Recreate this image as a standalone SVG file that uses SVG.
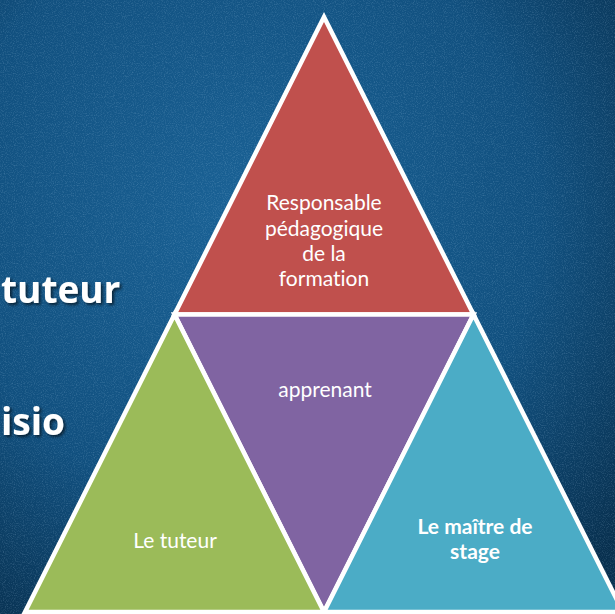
<svg xmlns="http://www.w3.org/2000/svg" width="615" height="614" viewBox="0 0 615 614">
<defs>
<radialGradient id="bg" cx="0.4" cy="0.35" r="0.8">
<stop offset="0" stop-color="#1a6296"/>
<stop offset="0.6" stop-color="#11507f"/>
<stop offset="1" stop-color="#08304f"/>
</radialGradient>
<filter id="noise" x="0" y="0" width="100%" height="100%">
<feTurbulence type="fractalNoise" baseFrequency="0.9" numOctaves="2" seed="3" result="n"/>
<feColorMatrix in="n" type="matrix" values="0 0 0 0 0.45  0 0 0 0 0.65  0 0 0 0 0.85  0 0 0 1.2 -0.55"/>
</filter>
<filter id="shadow" x="-10%" y="-20%" width="130%" height="150%">
<feDropShadow dx="2" dy="2" stdDeviation="1.5" flood-color="#000" flood-opacity="0.6"/>
</filter>
</defs>
<style>
.tri{stroke:#fff;stroke-width:4.5;stroke-linejoin:miter}
.lbl{font-family:Lato,"Liberation Sans",sans-serif;fill:#fff;text-anchor:middle;font-size:21px;font-variant-ligatures:none}
.side{font-family:"Open Sans","Liberation Sans",sans-serif;font-weight:bold;fill:#fff;font-size:37px}
</style>
<rect width="615" height="614" fill="url(#bg)"/>
<rect width="615" height="614" filter="url(#noise)" opacity="0.4"/>
<g id="side-text" filter="url(#shadow)">
<text class="side" x="1" y="303">tuteur</text>
<text class="side" x="1" y="435">isio</text>
</g>
<g id="connectors"></g>
<g id="node-responsable">
<polygon class="tri" points="324,17 174.5,314.5 473.5,314.5" fill="#c0504d"/>
<text class="lbl"><tspan x="324" y="210">Responsable</tspan><tspan x="324" y="236">pédagogique</tspan><tspan x="324" y="261">de la</tspan><tspan x="324" y="286">formation</tspan></text>
</g>
<g id="node-apprenant">
<polygon class="tri" points="174.5,314.5 473.5,314.5 324,612" fill="#8064a2"/>
<text class="lbl" x="325" y="397">apprenant</text>
</g>
<g id="node-tuteur">
<polygon class="tri" points="174.5,314.5 25,612 324,612" fill="#9bbb59"/>
<text class="lbl" x="175" y="548">Le tuteur</text>
</g>
<g id="node-maitre">
<polygon class="tri" points="473.5,314.5 324,612 623,612" fill="#4bacc6"/>
<text class="lbl" font-weight="bold"><tspan x="475" y="534">Le maître de</tspan><tspan x="475" y="559">stage</tspan></text>
</g>
</svg>
